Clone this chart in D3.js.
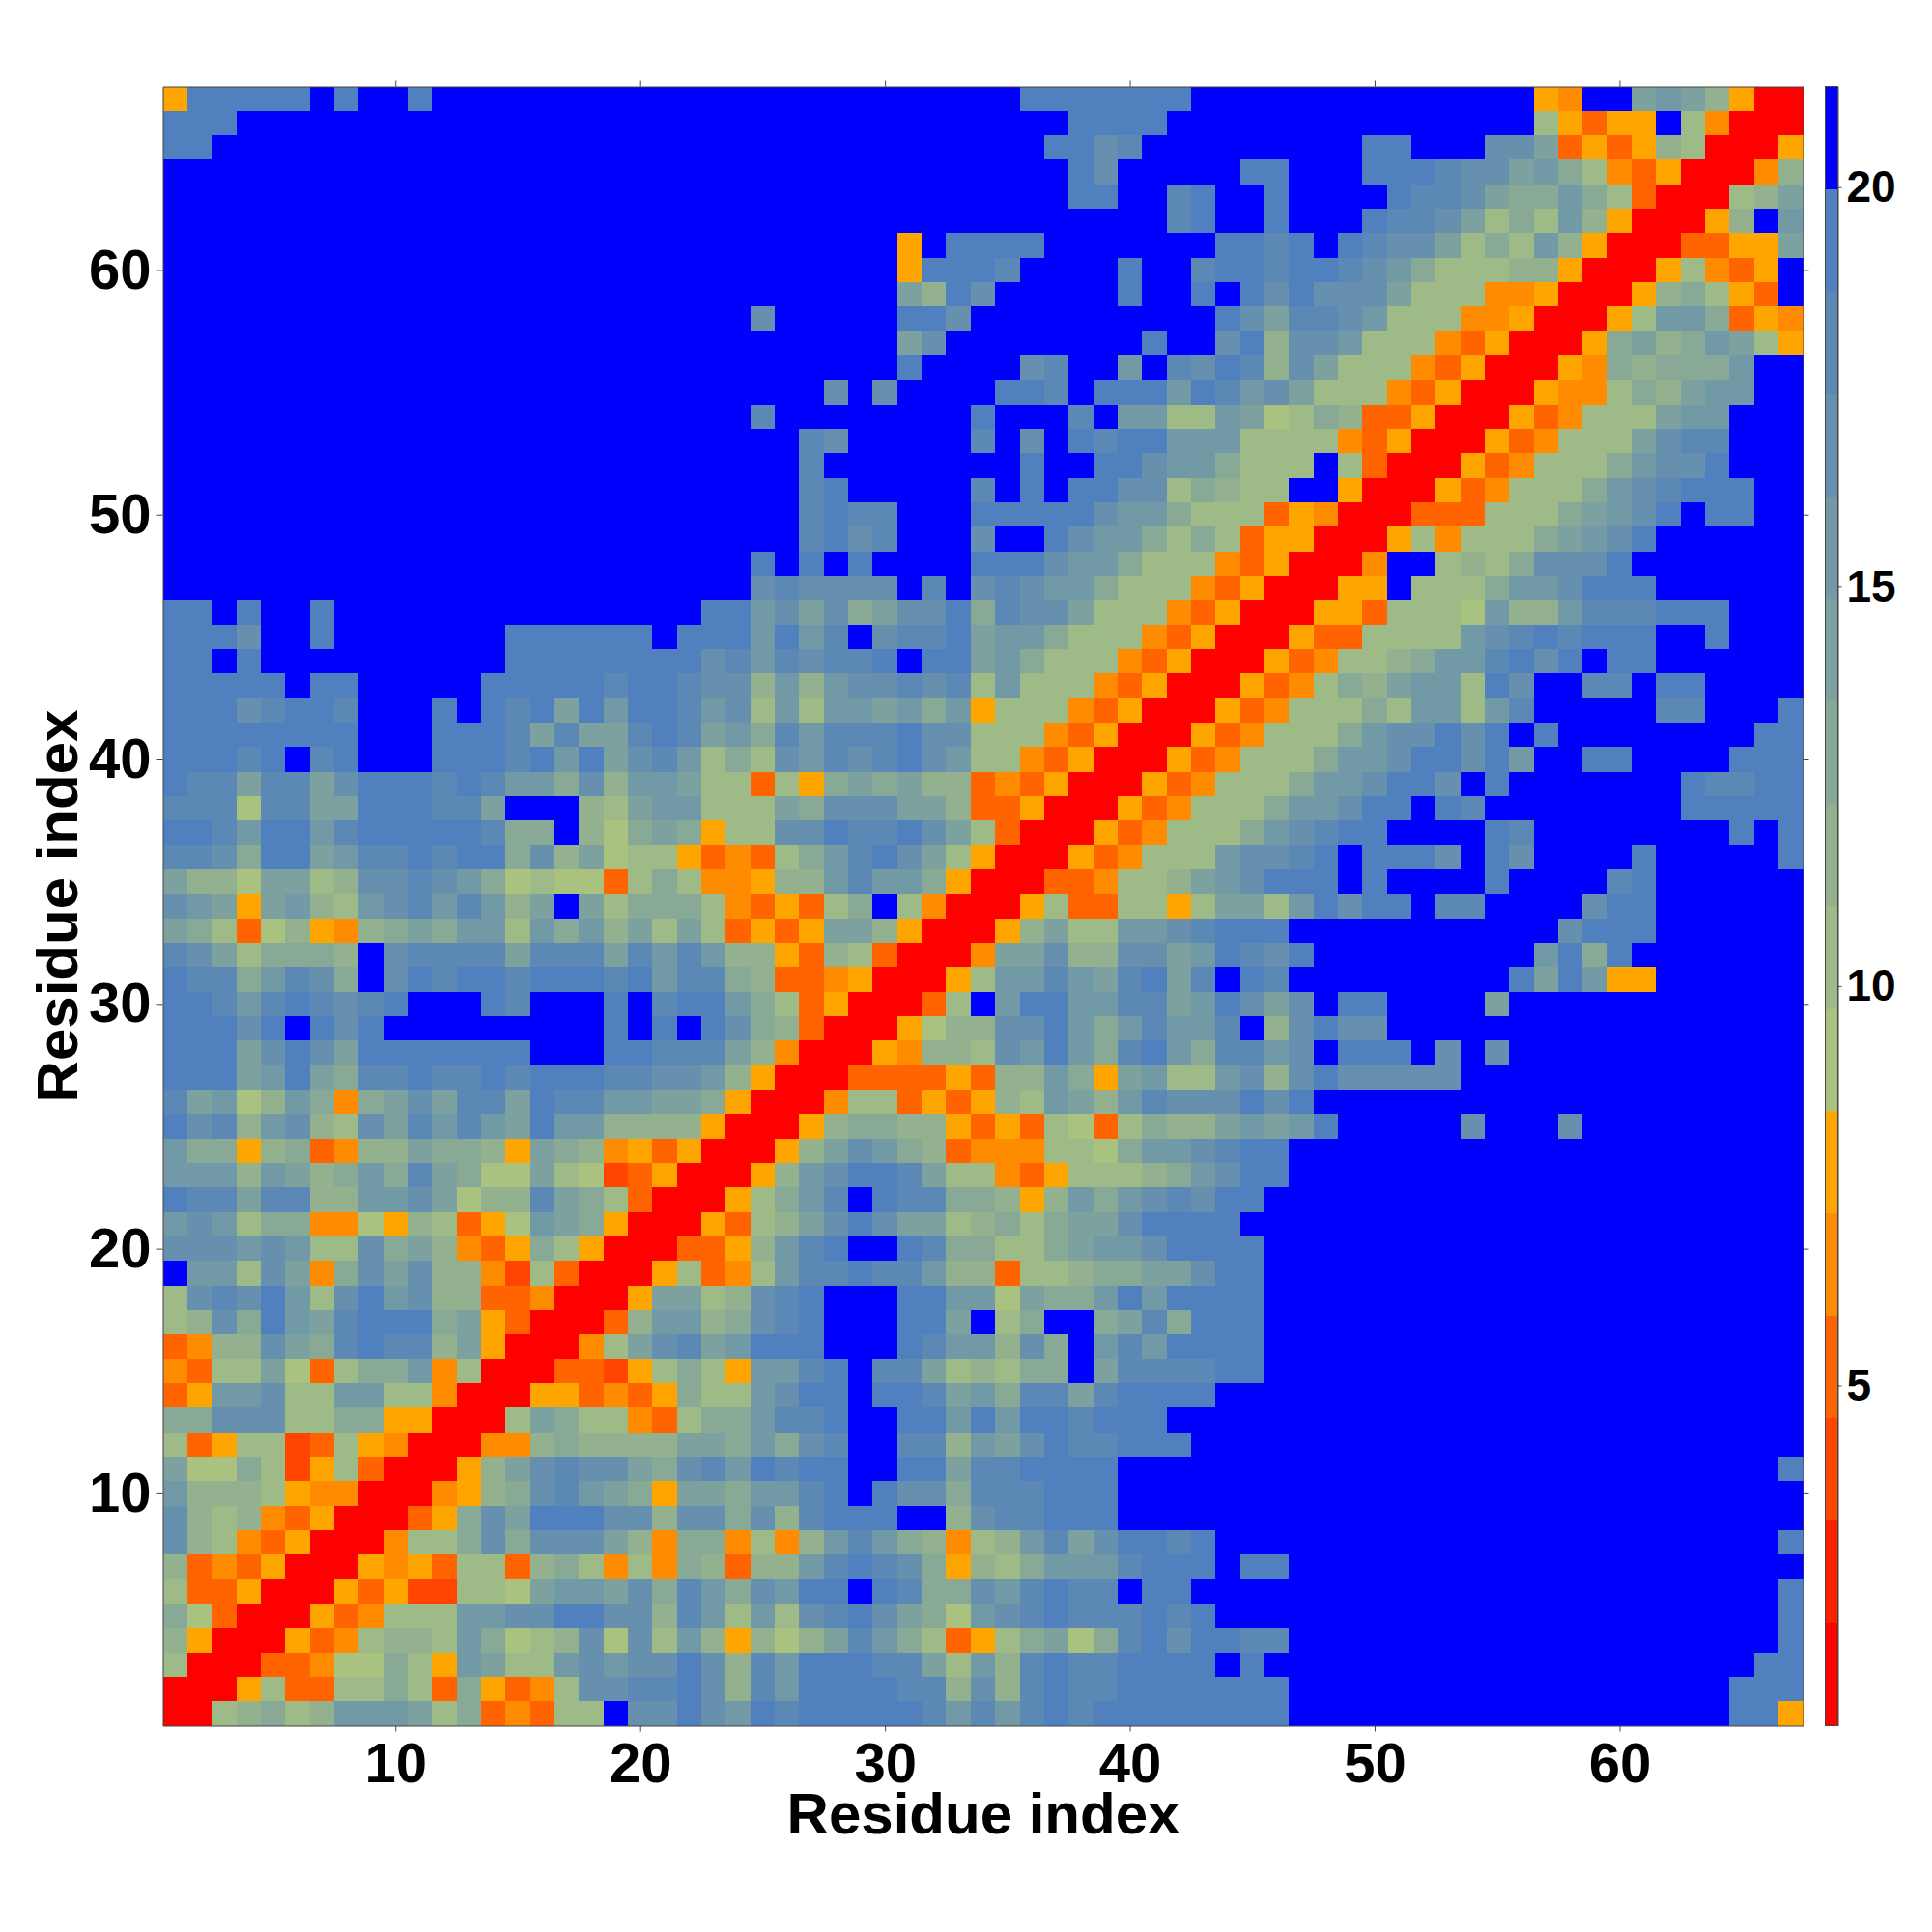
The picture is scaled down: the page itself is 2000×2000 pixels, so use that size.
<!DOCTYPE html>
<html>
<head>
<meta charset="utf-8">
<script src="https://cdn.jsdelivr.net/npm/d3@7"></script>
<style>
html,body{margin:0;padding:0;background:#fff}
text{font-family:"Liberation Sans",Arial,sans-serif;font-weight:bold;fill:#000}
</style>
</head>
<body>
<svg id="chart" width="2000" height="2000"></svg>
<script>
// Contact-map levels, top row = residue 67, bottom row = residue 1.
// Each character is a hex band index of the colour bar (0 = red band ... f = blue band).
const matrixRows = [
"5eeeeefeff efffffffff ffffffffff fffffeeeee eeffffffff ffffff54ff aba8500",
"eeefffffff ffffffffff ffffffffff fffffffeee efffffffff ffffff7535 5f74000",
"eeffffffff ffffffffff ffffffffff ffffffeecd fffffffffe efffcca353 5870005",
"ffffffffff ffffffffff ffffffffff fffffffecf ffffeefffe eedccab974 3500048",
"ffffffffff ffffffffff ffffffffff fffffffeef fdeffeffff eddca99b97 300078a",
"ffffffffff ffffffffff ffffffffff ffffffffff fdeffefffe ddca797b85 00058fb",
"ffffffffff ffffffffff ffffffffff 5feeeeffff fffeedefed cca797b850 003355a",
"ffffffffff ffffffffff ffffffffff 5eeedffffe ffdeedeedc b977788500 057435f",
"ffffffffff ffffffffff ffffffffff a8ecfffffe ffefececcc a777445000 589753f",
"ffffffffff ffffffffff ffffcfffff eecfffffff fffecaddcb 7774450005 7bb9354",
"ffffffffff ffffffffff ffffffffff acffffffff effce8ccb7 7743500059 a89ba75",
"ffffffffff ffffffffff ffffffffff effffcdffb fdced8ca77 7435000549 8999bff",
"ffffffffff ffffffffff fffffffcfc ffffeedfee ebedbca777 4350005447 98abbff",
"ffffffffff ffffffffff ffffdfffff fffefffdfb b77ba67983 3500053477 7abbfff",
"ffffffffff ffffffffff ffffffdcff fffdfcfede ebbb777743 5000534777 acddfff",
"ffffffffff ffffffffff ffffffdfff fffffeffee cbb9777f73 0005347779 bccefff",
"ffffffffff ffffffffff ffffffdeff fffdfefeec c79877ff50 005347779b cdeeeff",
"ffffffffff ffffffffff ffffffdedd fffeeeeecb b977735400 03337779ab cefeeff",
"ffffffffff ffffffffff ffffffdecd fffcffecbb 9797355000 5747779abc effffff",
"ffffffffff ffffffffff ffffefefef fffeeecbb9 7774350004 ff7879ccce fffffff",
"ffffffffff ffffffffff ffffcdcccc fdfcdcbb97 7743500055 f7779bbcee effffff",
"eefeffefff ffffffffff ffeebcac9a cce9dcca77 7435000553 7776b88bdd deeefff",
"eeecffefff ffffeeeeee feeebebdfc ddeabb9777 4350005337 777bcdedee effefff",
"eefeffffff ffffeeeeee eecdbdcdde feeab97774 3500053477 89bbdecefe effffff",
"eeeeefeeff fffeeeeede edcc8b8bcc dcd7b77743 5000534798 abb7ecffdd feeffff",
"eeecdeedff fefedeaebe edbc7b7bba b9b5777435 0005347779 7bb7bdffff fddfffe",
"eeeeeeeeff feeedadaad edab9dbddd ecc7774350 005347779b ccecefefff fffffee",
"eeedefdeff feeedebeac db797cbdcd ecb7743500 05347779bb ceecebffee ffffeee",
"eddaddacee ededbb9c8b ba773759a9 a883435000 5347779bbc eecfefffff ffeddee",
"ddd6ddaaee eddafff87a bb777a9ccc aa83350005 347779bbce efedffffff ffeeeee",
"eedbeebdee eeed99f869 a9577ccedd eca7300053 47779bcdee ffffedffff ffffefe",
"ddc9eeabdd edee9c8a67 7534379bde ca75000534 777bccdefe eecfecffff efffffe",
"a886aa78cc dcb9676637 9744588bdb b950003347 78abceeefe ffffeffffd effffff",
"cba5ab87bc dbdb8afa79 997435379f 7400057337 757aa7bece efddffffce effffff",
"a973685489 a9bb7b9b8a 7a73535aa8 500058a77b bcdeeeffff fffffffcee effffff",
"dca79998fc ddddadddad bdb8853873 0004aac88c cabedcefff ffffffbe9e fffffff",
"edd9bdc9fc edeedeeede bdd9833450 0057bbdbad eadfedffff fffffeaeb5 5ffffff",
"eedbdedcde fffedfffef deeb973500 037fbeebbd dabecacfee ffffafffff fffffff",
"eeecefecef ffffffffef efec983000 5688cceb9b dbbdf8cecc ffffffffff fffffff",
"eeeacecaee eeeeefffee ddda840005 4887cbeb9d eb9ddbcfee efcfcfffff fffffff",
"eeeabea9dd eddedeeedd ccb8500033 335388b95a b77bc8cecc cccfffffff fffffff",
"dab68b949a caddaeddbb aa95000477 353587ba8b dcccecefff ffffffffff fffffff",
"ecd8bc87ca dbdbaebb88 8850005899 8853537637 988ababeff fffcfffcff fffffff",
"b995893488 a9985a9845 3500058acb 9834447769 bbcdeeffff ffffffffff fffffff",
"bbb8ba89b9 da966a7623 500058bcee da77435777 89bceeffff ffffffffff fffffff",
"eddadd88bb ca688da973 000579bdfe dd99858b9b cdceefffff ffffffffff fffffff",
"bcb7994465 87356ba950 005378acec aa78979aac eeeeffffff ffffffffff fffffff",
"cccbcb77c9 a843597500 03358bdeff ed99779abb ceeeefffff ffffffffff fffffff",
"fbb7ca49ca c884273000 57347bdded db88377899 aaceefffff ffffffffff fffffff",
"7cdceb7ceb c883340005 aa78cdefff eebb6a99be beeeefffff ffffffffff fffffff",
"78c9ebadee e9a5300038 bb89cdefff eeaf79ff9a d9eeefffff ffffffffff fffffff",
"3488ca9ded d8a500047a cdabeeefff edbb8c9fbd beeeefffff ffffffffff fffffff",
"4377a63799 b470003325 7975bbdefd da78799fad dddeefffff ffffffffff fffffff",
"35bbc77bb7 7400055343 5977bceefe edab9ddade eeefffffff ffffffffff fffffff",
"99ccc77995 50007a9774 3799bddeff eebebeedee efffffffff ffffffffff fffffff",
"7357723754 0004489888 8aa9b9cdff dd8bacedde eeffffffff ffffffffff fffffff",
"a669725730 0058acdcca 9cdbedeeff eeaddeeeef ffffffffff ffffffffff ffffffe",
"b888754400 04589cdba9 5aa9bbdefe cc9dddeeef ffffffffff ffffffffff fffffff",
"c878435000 359caeeecc 8cc9c8deee ff8cddeeef ffffffffff ffffffffff fffffff",
"c874350004 779c9ccca8 4994748bdb 98478bdace edefffffff ffffffffff ffffffe",
"8343500054 5377389747 498388bded c95879bbbd eeefeeffff ffffffffff fffffff",
"7335000535 22776abbac 9db9cbeefe d99cbdeddf eeffffffff ffffffffff ffffffe",
"9630005347 77bbcceecc 8db7b7cdec a96bcdeddd edefffffff ffffffffff ffffffe",
"8500053478 87b9678c6c 7b85868adb 973579a69d eceeddffff ffffffffff ffffffe",
"7000334669 75ba77bcbc cec8dbeeed da7b8dedde eeefefffff ffffffffff fffffee",
"0005733779 7395347ccd dec8dbeeee dd8c8dedde eeeeeeffff ffffffffff ffffeee",
"0078978bbb a7934377fc cecbedeeee edbdbdedee eeeeeeffff ffffffffff ffffee5"
];
const bandColors = ["#ff0000","#ff2000","#ff4500","#ff6400","#ff8c00","#ffa500",
  "#a9c27f","#9eba87","#93b18f","#88a996","#7da19e","#7199a6","#6690ae","#5b88b5","#5080bd","#0000ff"];
const axisTicks = [10,20,30,40,50,60];
const barTicks = [5,10,15,20];
const axisLabel = "Residue index";
const valueRange = [0.745, 21.26];

const svg = d3.select("#chart");
const x = d3.scaleLinear().domain([0.5,67.5]).range([168.5,1866.5]);
const y = d3.scaleLinear().domain([0.5,67.5]).range([1786.5,89.5]);
const grid = matrixRows.map(r => r.replace(/ /g,""));
grid.forEach((r,i)=>{ if(r.length!==67) console.error("row",67-i,"has",r.length); });
const cells = [];
grid.forEach((r,i)=>{ const res = 67-i; for(let j=0;j<r.length;j++) cells.push({col:j+1,row:res,band:parseInt(r[j],16)}); });

svg.append("g").attr("shape-rendering","crispEdges").selectAll("rect").data(cells).join("rect")
  .attr("x",d=>x(d.col-0.5)).attr("y",d=>y(d.row+0.5))
  .attr("width",d=>x(d.col+0.5)-x(d.col-0.5))
  .attr("height",d=>y(d.row-0.5)-y(d.row+0.5))
  .attr("fill",d=>bandColors[d.band]);

const lineCol = "#444";
function style(g,size){
  g.select(".domain").attr("stroke",lineCol).attr("stroke-width",1);
  g.selectAll(".tick line").attr("stroke",lineCol).attr("stroke-width",1);
  g.selectAll("text").style("font-size",size+"px");
  g.attr("font-family",null).attr("font-size",null);
}
const fy=1786.5, fl=168.5, fr=1866.5, ft=89.5;
svg.append("g").attr("transform",`translate(0,${fy})`)
  .call(d3.axisBottom(x).tickValues(axisTicks).tickSize(6).tickSizeOuter(0).tickPadding(11)).call(style,58);
svg.append("g").attr("transform",`translate(0,${ft})`)
  .call(d3.axisTop(x).tickValues(axisTicks).tickSize(6).tickSizeOuter(0).tickFormat("")).call(style,58);
svg.append("g").attr("transform",`translate(${fl},0)`)
  .call(d3.axisLeft(y).tickValues(axisTicks).tickSize(6).tickSizeOuter(0).tickPadding(6)).call(style,58);
svg.append("g").attr("transform",`translate(${fr},0)`)
  .call(d3.axisRight(y).tickValues(axisTicks).tickSize(6).tickSizeOuter(0).tickFormat("")).call(style,58);

svg.append("text").attr("x",1018).attr("y",1898).attr("text-anchor","middle").style("font-size","60px").text(axisLabel);
svg.append("text").attr("transform","translate(80,938) rotate(-90)").attr("text-anchor","middle").style("font-size","60px").text(axisLabel);

// colour bar
const cbX0=1889.5, cbX1=1902.5;
const cb = d3.scaleLinear().domain(valueRange).range([1786.5,89.5]);
const bandStep = (valueRange[1]-valueRange[0])/bandColors.length;
svg.append("g").attr("shape-rendering","crispEdges").selectAll("rect").data(bandColors).join("rect")
  .attr("x",cbX0).attr("width",cbX1-cbX0)
  .attr("y",(d,i)=>cb(valueRange[0]+(i+1)*bandStep))
  .attr("height",(d,i)=>cb(valueRange[0]+i*bandStep)-cb(valueRange[0]+(i+1)*bandStep))
  .attr("fill",d=>d);
svg.append("rect").attr("x",cbX0).attr("y",89.5).attr("width",cbX1-cbX0).attr("height",1697)
  .attr("fill","none").attr("stroke",lineCol).attr("stroke-width",1);
svg.append("g").attr("transform",`translate(${cbX1},0)`)
  .call(d3.axisRight(cb).tickValues(barTicks).tickSize(4).tickSizeOuter(0).tickPadding(5)).call(style,46);
</script>
</body>
</html>
